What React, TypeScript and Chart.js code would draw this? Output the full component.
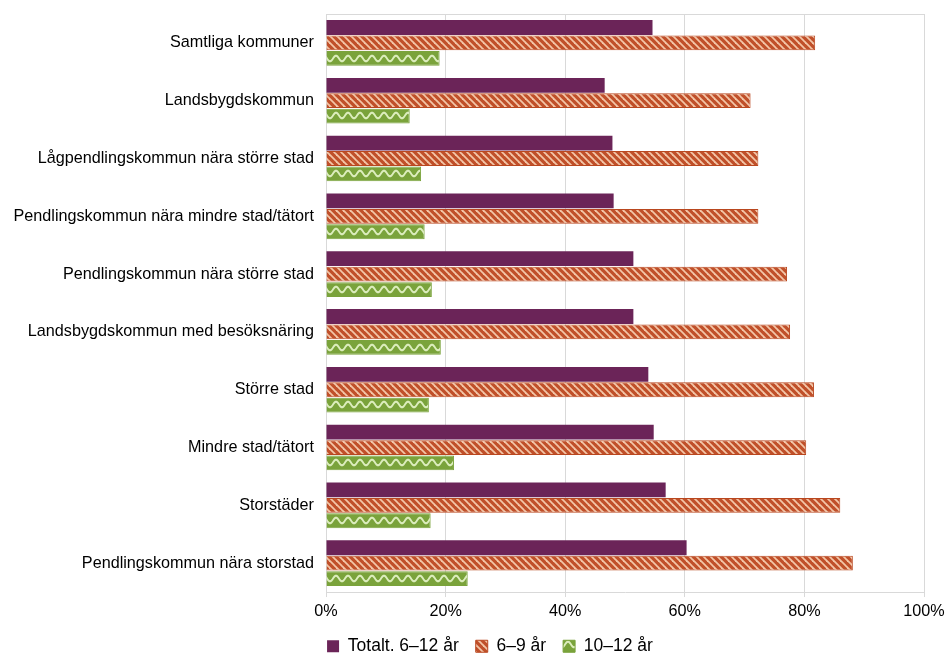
import React, { useEffect, useRef } from "react";
import { Chart, registerables } from "chart.js";

Chart.register(...registerables);

const categories = [
  "Samtliga kommuner",
  "Landsbygdskommun",
  "Lågpendlingskommun nära större stad",
  "Pendlingskommun nära mindre stad/tätort",
  "Pendlingskommun nära större stad",
  "Landsbygdskommun med besöksnäring",
  "Större stad",
  "Mindre stad/tätort",
  "Storstäder",
  "Pendlingskommun nära storstad",
];

const seriesNames = ["Totalt. 6–12 år", "6–9 år", "10–12 år"];
const totalt = [54.6, 46.6, 47.9, 48.1, 51.4, 51.4, 53.9, 54.8, 56.8, 60.3];
const age6to9 = [81.8, 71.0, 72.3, 72.3, 77.1, 77.6, 81.6, 80.3, 86.0, 88.1];
const age10to12 = [19.0, 14.0, 15.9, 16.5, 17.7, 19.2, 17.2, 21.4, 17.5, 23.7];
const xTicks = [0, 20, 40, 60, 80, 100];

function makeStripeTile(): HTMLCanvasElement {
  const s = 7;
  const c = document.createElement("canvas");
  c.width = s;
  c.height = s;
  const ctx = c.getContext("2d")!;
  ctx.fillStyle = "#c0502a";
  ctx.fillRect(0, 0, s, s);
  ctx.strokeStyle = "#f3c6a8";
  ctx.lineWidth = 1.8;
  for (let k = -1; k <= 1; k++) {
    ctx.beginPath();
    ctx.moveTo(k * s - 1, -1);
    ctx.lineTo(k * s + s + 1, s + 1);
    ctx.stroke();
  }
  return c;
}

function makeWaveTile(): HTMLCanvasElement {
  const w = 12;
  const h = 16;
  const c = document.createElement("canvas");
  c.width = w;
  c.height = h;
  const ctx = c.getContext("2d")!;
  ctx.fillStyle = "#7aa33b";
  ctx.fillRect(0, 0, w, h);
  ctx.strokeStyle = "#dcedbd";
  ctx.lineWidth = 2;
  ctx.beginPath();
  for (let x = -1; x <= w + 1; x += 0.5) {
    const y = 7.5 - 2.8 * Math.cos((2 * Math.PI * x) / w);
    if (x === -1) ctx.moveTo(x, y);
    else ctx.lineTo(x, y);
  }
  ctx.stroke();
  return c;
}

const topBorder = {
  id: "topBorder",
  afterInit(chart: any) {
    const lg = chart.legend;
    if (lg && !lg.__shifted) {
      const orig = lg.draw.bind(lg);
      lg.draw = function (...args: any[]) {
        const ctx = chart.ctx;
        ctx.save();
        ctx.translate(28, -6);
        orig(...args);
        ctx.restore();
      };
      lg.__shifted = true;
    }
  },
  afterDraw(chart: any) {
    const { ctx, chartArea } = chart;
    ctx.save();
    ctx.strokeStyle = "#d9d9d9";
    ctx.lineWidth = 1;
    ctx.beginPath();
    ctx.moveTo(chartArea.left, chartArea.top + 0.5);
    ctx.lineTo(chartArea.right, chartArea.top + 0.5);
    ctx.stroke();
    ctx.restore();
  },
};

export default function App() {
  const ref = useRef<HTMLCanvasElement>(null);
  useEffect(() => {
    if (!ref.current) return;
    const font = { family: "'Liberation Sans', Arial, sans-serif", size: 16.2 };
    const legendFont = { family: "'Liberation Sans', Arial, sans-serif", size: 17.5 };
    const stripeTile = makeStripeTile();
    const waveTile = makeWaveTile();
    const cctx = ref.current.getContext("2d")!;
    const stripePat = cctx.createPattern(stripeTile, "repeat")!;
    const waveBase = cctx.createPattern(waveTile, "repeat")!;

    const waveFill = (c: any) => {
      const chart = c.chart;
      if (c.dataIndex === undefined || !chart.scales || !chart.scales.y) return waveBase;
      const ys = chart.scales.y;
      const catH = ys.height / categories.length;
      const barH = (catH * 0.8) / 3;
      const center = ys.getPixelForValue(c.dataIndex);
      const top = center + barH / 2;
      const p = cctx.createPattern(waveTile, "repeat")!;
      try {
        p.setTransform(new DOMMatrix().translate(0, Math.round(top)));
      } catch (e) {}
      return p;
    };

    const chart = new Chart(ref.current, {
      type: "bar",
      data: {
        labels: categories,
        datasets: [
          {
            label: seriesNames[0],
            data: totalt,
            backgroundColor: "#6b2458",
            borderColor: "#6b2458",
            borderWidth: 0,
            categoryPercentage: 0.8,
            barPercentage: 0.96,
          },
          {
            label: seriesNames[1],
            data: age6to9,
            backgroundColor: stripePat,
            borderColor: "#b9471f",
            borderWidth: 1,
            categoryPercentage: 0.8,
            barPercentage: 0.96,
          },
          {
            label: seriesNames[2],
            data: age10to12,
            backgroundColor: waveFill,
            borderColor: "#7aa33b",
            borderWidth: 1,
            categoryPercentage: 0.8,
            barPercentage: 0.96,
          },
        ],
      },
      options: {
        indexAxis: "y",
        animation: false,
        responsive: true,
        maintainAspectRatio: false,
        layout: { padding: { top: 14, right: 21, left: 0, bottom: -10 } },
        scales: {
          x: {
            min: 0,
            max: 100,
            afterBuildTicks: (scale: any) => {
              scale.ticks = xTicks.map((v) => ({ value: v }));
            },
            afterFit: (scale: any) => {
              scale.paddingRight = 0;
              scale.paddingLeft = 0;
            },
            ticks: {
              color: "#000",
              font,
              padding: 5,
              callback: (v: any) => v + "%",
            },
            grid: { color: "#d9d9d9", tickLength: 5, tickColor: "#d9d9d9" },
            border: { color: "#d9d9d9" },
          },
          y: {
            afterFit: (scale: any) => {
              scale.width = 326;
              scale.paddingTop = 0;
              scale.paddingBottom = 0;
            },
            ticks: { color: "#000", font, padding: 12 },
            grid: { display: false, drawTicks: false },
            border: { color: "#d9d9d9" },
          },
        },
        plugins: {
          legend: {
            position: "bottom",
            labels: {
              color: "#000",
              font: legendFont,
              boxWidth: 12,
              boxHeight: 12,
              padding: 17,
            },
          },
          tooltip: { enabled: false },
        },
      },
      plugins: [topBorder],
    });
    return () => chart.destroy();
  }, []);
  return (
    <div style={{ position: "fixed", left: 0, top: 0, width: 945, height: 661, background: "#fff" }}>
      <canvas ref={ref} />
    </div>
  );
}
